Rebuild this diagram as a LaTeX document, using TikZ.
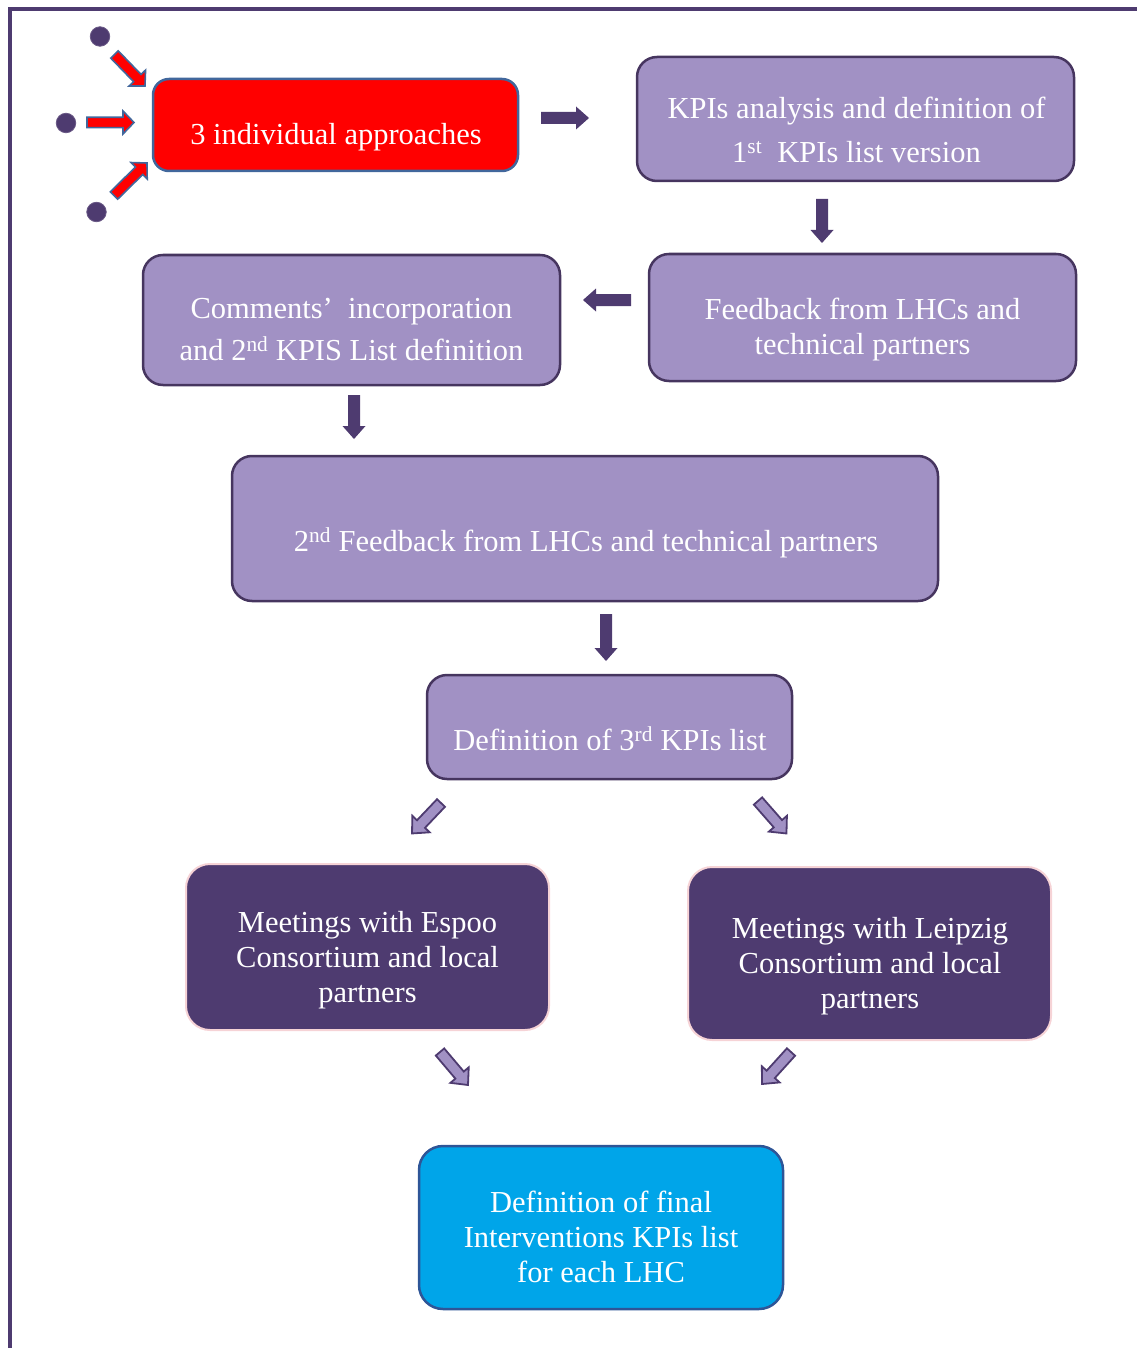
\documentclass[tikz,border=0pt]{standalone}
\usepackage{fontspec}
\setmainfont{Liberation Serif}
\definecolor{lav}{HTML}{A191C4}
\definecolor{dpurple}{HTML}{4E3B70}
\definecolor{lavborder}{HTML}{46355F}
\definecolor{boxred}{HTML}{FF0000}
\definecolor{steelblue}{HTML}{41679C}
\definecolor{skyblue}{HTML}{00A5E9}
\definecolor{navyborder}{HTML}{2E5597}
\definecolor{pinkborder}{HTML}{F6D3D6}

% block arrow from (x1,y1) to (x2,y2): shaft half width, head half width, head length
\newcommand\blockarrow[8]{%
  \pgfmathsetmacro\baAng{atan2(-((#5)-(#3)),(#4)-(#2))}%
  \pgfmathsetmacro\baLen{veclen((#4)-(#2),(#5)-(#3))}%
  \begin{scope}[shift={(#2,#3)},rotate=\baAng]
    \path[#1] (0,-#6) -- ({\baLen-#8},-#6) -- ({\baLen-#8},-#7) -- (\baLen,0)
      -- ({\baLen-#8},#7) -- ({\baLen-#8},#6) -- (0,#6) -- cycle;
  \end{scope}}
\newcommand\supx[1]{\smash{\textsuperscript{#1}}}

\begin{document}
\begin{tikzpicture}[x=1pt,y=-1pt,
  box/.style={rounded corners=20pt, line width=2.5pt, inner sep=0pt},
  lavbox/.style={box, fill=lav, draw=lavborder},
  redbox/.style={box, fill=boxred, draw=steelblue, rounded corners=16pt},
  darkbox/.style={box, fill=dpurple, draw=pinkborder, line width=2pt, rounded corners=24pt},
  bluebox/.style={box, fill=skyblue, draw=navyborder, rounded corners=24pt},
  txt/.style={text=white, align=center, inner sep=0pt, anchor=north,
    font=\fontsize{30.5}{35}\selectfont},
  redarrow/.style={fill=boxred, draw=steelblue, line width=1.6pt, line join=miter},
  darkarrow/.style={fill=dpurple},
  lavarrow/.style={fill=lav, draw=dpurple, line width=1.8pt, line join=miter},
  dot/.style={circle, fill=dpurple, draw=dpurple!85!white, line width=0.8pt,
    minimum size=19.5pt, inner sep=0pt}]

\useasboundingbox (0,0) rectangle (1137,1348);

% frame lines along the top and left edge
\draw[dpurple, line width=4.5pt] (10,1348) -- (10,9) -- (1137,9);

% boxes
\node[redbox, minimum width=365pt, minimum height=92pt] (approach) at (335.5,125) {};
\node[lavbox, minimum width=437pt, minimum height=124pt] (first) at (855.5,119) {};
\node[lavbox, minimum width=427pt, minimum height=127pt] (feedback) at (862.5,317.5) {};
\node[lavbox, minimum width=417pt, minimum height=130pt] (second) at (351.5,320) {};
\node[lavbox, minimum width=706pt, minimum height=145pt] (feedback2) at (585,528.5) {};
\node[lavbox, minimum width=365pt, minimum height=104pt] (third) at (609.5,727) {};
\node[darkbox, minimum width=363pt, minimum height=166pt] (espoo) at (367.5,947) {};
\node[darkbox, minimum width=363pt, minimum height=173pt] (leipzig) at (869.5,953.5) {};
\node[bluebox, minimum width=364pt, minimum height=163pt] (final) at (601,1227.5) {};

% box texts (node placed by the top of its first line)
\node[txt] (approach-t) at (336,120) {\strut 3 individual approaches};
\node[txt] (first-t) at (856.5,94) {\strut KPIs analysis and definition of\\[9pt]
  \strut 1\supx{st}~ KPIs list version};
\node[txt] (feedback-t) at (862.5,295) {\strut Feedback from LHCs and\\
  \strut technical partners};
\node[txt] (second-t) at (351.5,294) {\strut Comments’~ incorporation\\[7pt]
  \strut and 2\supx{nd} KPIS List definition};
\node[txt] (feedback2-t) at (586,527) {\strut 2\supx{nd} Feedback from LHCs and technical partners};
\node[txt] (third-t) at (610,726) {\strut Definition of 3\supx{rd} KPIs list};
\node[txt] (espoo-t) at (367.5,908) {\strut Meetings with Espoo\\
  \strut Consortium and local\\ \strut partners};
\node[txt] (leipzig-t) at (870,914) {\strut Meetings with Leipzig\\
  \strut Consortium and local\\ \strut partners};
\node[txt] (final-t) at (601,1187.5) {\strut Definition of final\\
  \strut Interventions KPIs list\\ \strut for each LHC};

% three starting points
\node[dot] (d1) at (100,36.5) {};
\node[dot] (d2) at (66,123) {};
\node[dot] (d3) at (96.5,212) {};

% red arrows into the first box
\blockarrow{redarrow}{114.5}{54.5}{145}{86}{5.2}{11.5}{11}
\blockarrow{redarrow}{87}{122.5}{134}{122.5}{5.2}{11.5}{11}
\blockarrow{redarrow}{114}{195.5}{147}{163}{5.2}{11.5}{11}

% flow arrows
\blockarrow{darkarrow}{541}{118}{589}{118}{6}{11.5}{13}
\blockarrow{darkarrow}{822}{199}{822}{243}{6}{11.5}{13}
\blockarrow{darkarrow}{631}{300}{583}{300}{6}{11.5}{13}
\blockarrow{darkarrow}{354}{395}{354}{439}{6}{11.5}{13}
\blockarrow{darkarrow}{606}{614}{606}{661}{6}{11.5}{13}

% split and merge arrows
\blockarrow{lavarrow}{441}{803}{412}{833.5}{5.5}{12}{13}
\blockarrow{lavarrow}{758}{801}{786.5}{833.5}{5.5}{12}{13}
\blockarrow{lavarrow}{440}{1052}{468}{1085}{5.5}{12}{13}
\blockarrow{lavarrow}{791}{1052}{762}{1084}{5.5}{12}{13}
\end{tikzpicture}
\end{document}
